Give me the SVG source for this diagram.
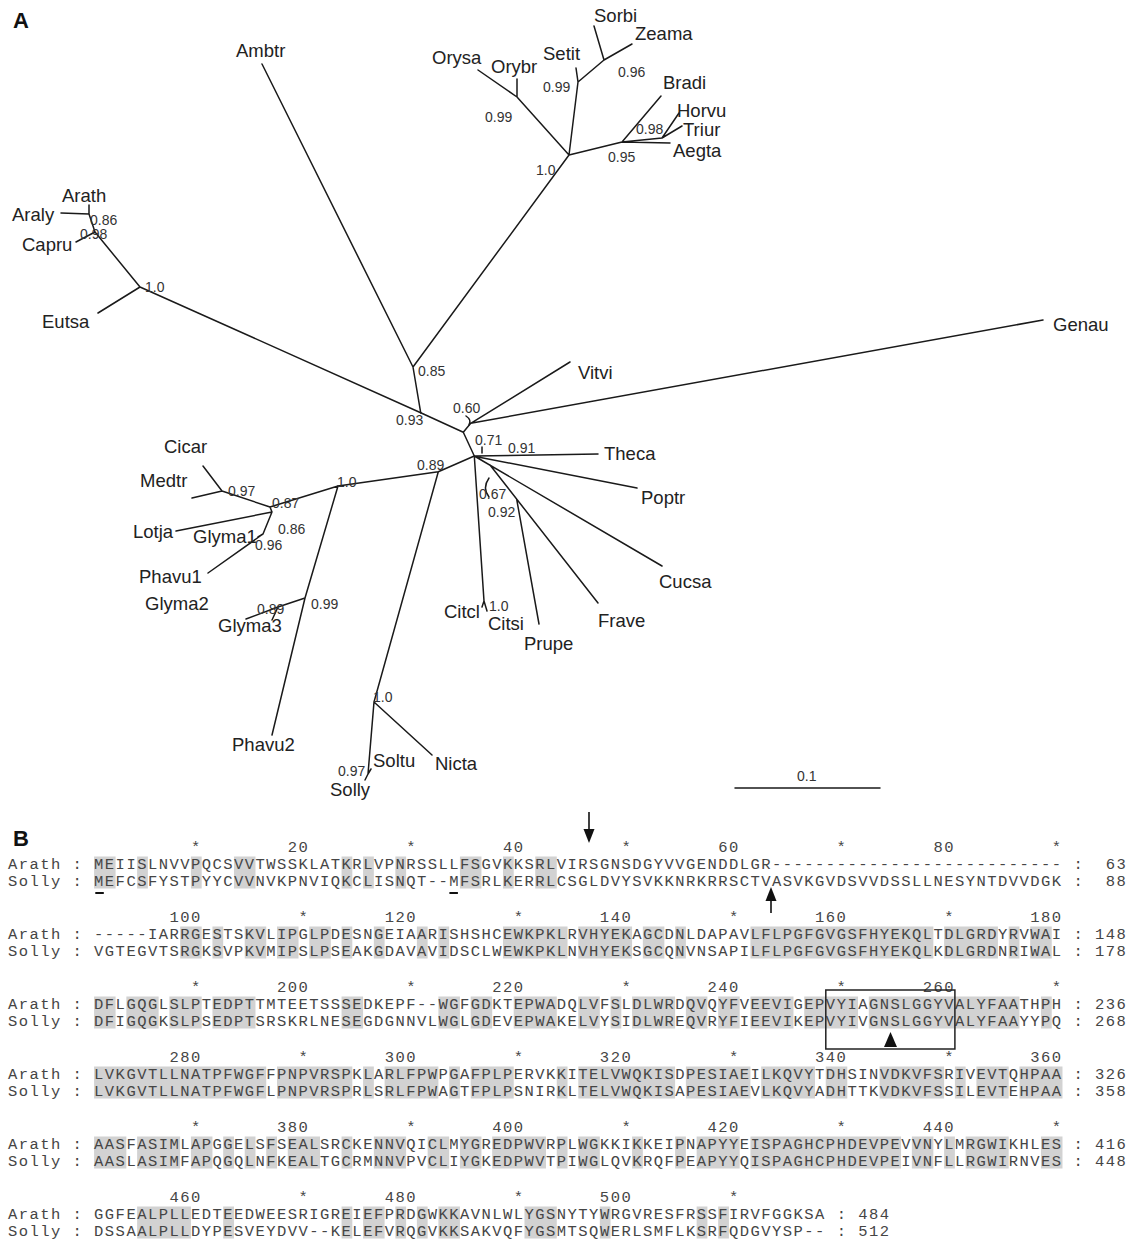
<svg xmlns="http://www.w3.org/2000/svg" width="1137" height="1239" viewBox="0 0 1137 1239">
<style>
.br{stroke:#1a1a1a;stroke-width:1.5;fill:none;stroke-linecap:round}
.lab{font-family:"Liberation Sans",Arial,sans-serif;font-size:18.5px;fill:#222}
.bs{font-family:"Liberation Sans",Arial,sans-serif;font-size:14px;fill:#333}
.pl{font-family:"Liberation Sans",Arial,sans-serif;font-size:22px;font-weight:bold;fill:#111}
.seq{font-family:"Liberation Mono","Courier New",monospace;font-size:15.5px;letter-spacing:1.46px;fill:#454545;white-space:pre}
.sh{fill:#d2d2d2}
.ul{fill:#111}
</style>
<rect width="1137" height="1239" fill="#fff"/>
<text class="pl" x="13" y="28">A</text>
<text class="pl" x="13" y="846">B</text>

<g id="connectors">
<path class="br" d="M420.7,412.7 L413,367 M413,367 L262,64 M413,367 L569,155 M569,155 L517,97 M517,97 L478,70 M517,97 L517,79 M569,155 L578,82 M578,82 L576,68 M578,82 L604,60 M604,60 L594,26 M604,60 L632,44 M569,155 L622,142 M622,142 L670,143 M622,142 L661,96 M622,142 L662,138 M662,138 L679,113 M662,138 L682,126"/>
<path class="br" d="M420.7,412.7 L140,287 M140,287 L98,313 M140,287 L95,232 M95,232 L76,242 M95,232 L89,214 M89,214 L61,213 M89,214 L89,205"/>
<path class="br" d="M420.7,412.7 L463.3,432.3 M463.3,432.3 L470.7,423.3 M470.7,423.3 L570,362 M470.7,423.3 L1043,320 M463.3,432.3 L474.3,456 M474.3,456 L598,454 M478,457 L637,488 M474.3,456 L662,566 M490,465 L598,603 M516.7,499.3 L539,624 M474.3,456 L484,601 M484,601 L482,607 M484,601 L487,611"/>
<path class="br" d="M474.3,456 L438.3,471.7 M438.3,471.7 L338,486 M438.3,471.7 L374,702 M374,702 L432,755 M374,702 L368,774 M368,774 L371,769 M368,774 L365,780"/>
<path class="br" d="M338,486 L270,507 M270,507 L222,491 M222,491 L203,466 M222,491 L192,498 M270,507 L272,512 M272,512 L176,531 M272,512 L263,534 M263,534 L258,537 M263,534 L208,573 M338,486 L305,598 M305,598 L278,607 M278,607 L246,619 M278,607 L272,620 M305,598 L272,735"/>
<path class="br" d="M466,416 Q472,420 469,425 M489,478 Q482,488 489,497 M482,447 L482,453" stroke-width="1.3"/>
<path class="br" d="M735,788 L880,788"/>
</g>

<g id="leaves">
<g id="n-Ambtr"><text class="lab" x="236" y="57">Ambtr</text></g>
<g id="n-Orysa"><text class="lab" x="432" y="64">Orysa</text></g>
<g id="n-Orybr"><text class="lab" x="491" y="73">Orybr</text></g>
<g id="n-Setit"><text class="lab" x="543" y="60">Setit</text></g>
<g id="n-Sorbi"><text class="lab" x="594" y="22">Sorbi</text></g>
<g id="n-Zeama"><text class="lab" x="635" y="40">Zeama</text></g>
<g id="n-Bradi"><text class="lab" x="663" y="89">Bradi</text></g>
<g id="n-Horvu"><text class="lab" x="677" y="117">Horvu</text></g>
<g id="n-Triur"><text class="lab" x="683" y="136">Triur</text></g>
<g id="n-Aegta"><text class="lab" x="673" y="157">Aegta</text></g>
<g id="n-Arath"><text class="lab" x="62" y="202">Arath</text></g>
<g id="n-Araly"><text class="lab" x="12" y="221">Araly</text></g>
<g id="n-Capru"><text class="lab" x="22" y="251">Capru</text></g>
<g id="n-Eutsa"><text class="lab" x="42" y="328">Eutsa</text></g>
<g id="n-Genau"><text class="lab" x="1053" y="331">Genau</text></g>
<g id="n-Vitvi"><text class="lab" x="578" y="379">Vitvi</text></g>
<g id="n-Theca"><text class="lab" x="604" y="460">Theca</text></g>
<g id="n-Poptr"><text class="lab" x="641" y="504">Poptr</text></g>
<g id="n-Cicar"><text class="lab" x="164" y="453">Cicar</text></g>
<g id="n-Medtr"><text class="lab" x="140" y="487">Medtr</text></g>
<g id="n-Lotja"><text class="lab" x="133" y="538">Lotja</text></g>
<g id="n-Glyma1"><text class="lab" x="193" y="543">Glyma1</text></g>
<g id="n-Phavu1"><text class="lab" x="139" y="583">Phavu1</text></g>
<g id="n-Glyma2"><text class="lab" x="145" y="610">Glyma2</text></g>
<g id="n-Glyma3"><text class="lab" x="218" y="632">Glyma3</text></g>
<g id="n-Phavu2"><text class="lab" x="232" y="751">Phavu2</text></g>
<g id="n-Cucsa"><text class="lab" x="659" y="588">Cucsa</text></g>
<g id="n-Frave"><text class="lab" x="598" y="627">Frave</text></g>
<g id="n-Citcl"><text class="lab" x="444" y="618">Citcl</text></g>
<g id="n-Citsi"><text class="lab" x="488" y="630">Citsi</text></g>
<g id="n-Prupe"><text class="lab" x="524" y="650">Prupe</text></g>
<g id="n-Soltu"><text class="lab" x="373" y="767">Soltu</text></g>
<g id="n-Nicta"><text class="lab" x="435" y="770">Nicta</text></g>
<g id="n-Solly"><text class="lab" x="330" y="796">Solly</text></g>
</g>

<g id="support">
<text class="bs" x="485" y="122">0.99</text>
<text class="bs" x="543" y="92">0.99</text>
<text class="bs" x="618" y="77">0.96</text>
<text class="bs" x="636" y="134">0.98</text>
<text class="bs" x="608" y="162">0.95</text>
<text class="bs" x="536" y="175">1.0</text>
<text class="bs" x="90" y="225">0.86</text>
<text class="bs" x="80" y="239">0.98</text>
<text class="bs" x="145" y="292">1.0</text>
<text class="bs" x="418" y="376">0.85</text>
<text class="bs" x="396" y="425">0.93</text>
<text class="bs" x="453" y="413">0.60</text>
<text class="bs" x="475" y="445">0.71</text>
<text class="bs" x="508" y="453">0.91</text>
<text class="bs" x="417" y="470">0.89</text>
<text class="bs" x="479" y="499">0.67</text>
<text class="bs" x="488" y="517">0.92</text>
<text class="bs" x="228" y="496">0.97</text>
<text class="bs" x="272" y="508">0.87</text>
<text class="bs" x="337" y="487">1.0</text>
<text class="bs" x="278" y="534">0.86</text>
<text class="bs" x="255" y="550">0.96</text>
<text class="bs" x="257" y="614">0.89</text>
<text class="bs" x="311" y="609">0.99</text>
<text class="bs" x="489" y="611">1.0</text>
<text class="bs" x="373" y="702">1.0</text>
<text class="bs" x="338" y="776">0.97</text>
<text class="bs" x="797" y="781">0.1</text>
</g>

<g id="alignment">
<g id="shade">
<g transform="translate(94.08,856.5) scale(10.76,1)">
<rect class="sh" x="0" width="2" height="32"/><rect class="sh" x="4" width="1" height="32"/><rect class="sh" x="9" width="1" height="32"/><rect class="sh" x="13" width="2" height="32"/><rect class="sh" x="23" width="1" height="32"/><rect class="sh" x="25" width="1" height="32"/><rect class="sh" x="28" width="1" height="32"/><rect class="sh" x="34" width="2" height="32"/><rect class="sh" x="38" width="1" height="32"/><rect class="sh" x="41" width="2" height="32"/>
</g>
<g transform="translate(94.08,926.5) scale(10.76,1)">
<rect class="sh" x="8" width="2" height="32"/><rect class="sh" x="11" width="1" height="32"/><rect class="sh" x="14" width="2" height="32"/><rect class="sh" x="17" width="2" height="32"/><rect class="sh" x="20" width="2" height="32"/><rect class="sh" x="23" width="1" height="32"/><rect class="sh" x="26" width="1" height="32"/><rect class="sh" x="30" width="1" height="32"/><rect class="sh" x="32" width="1" height="32"/><rect class="sh" x="38" width="6" height="32"/><rect class="sh" x="45" width="5" height="32"/><rect class="sh" x="51" width="2" height="32"/><rect class="sh" x="54" width="1" height="32"/><rect class="sh" x="61" width="17" height="32"/><rect class="sh" x="79" width="5" height="32"/><rect class="sh" x="85" width="1" height="32"/><rect class="sh" x="87" width="2" height="32"/>
</g>
<g transform="translate(94.08,996.5) scale(10.76,1)">
<rect class="sh" x="0" width="2" height="32"/><rect class="sh" x="3" width="3" height="32"/><rect class="sh" x="7" width="3" height="32"/><rect class="sh" x="11" width="4" height="32"/><rect class="sh" x="23" width="2" height="32"/><rect class="sh" x="32" width="2" height="32"/><rect class="sh" x="35" width="2" height="32"/><rect class="sh" x="39" width="4" height="32"/><rect class="sh" x="45" width="2" height="32"/><rect class="sh" x="48" width="1" height="32"/><rect class="sh" x="50" width="4" height="32"/><rect class="sh" x="55" width="2" height="32"/><rect class="sh" x="58" width="2" height="32"/><rect class="sh" x="61" width="4" height="32"/><rect class="sh" x="66" width="5" height="32"/><rect class="sh" x="72" width="14" height="32"/><rect class="sh" x="88" width="1" height="32"/>
</g>
<g transform="translate(94.08,1066.5) scale(10.76,1)">
<rect class="sh" x="0" width="16" height="32"/><rect class="sh" x="17" width="7" height="32"/><rect class="sh" x="25" width="1" height="32"/><rect class="sh" x="27" width="5" height="32"/><rect class="sh" x="33" width="1" height="32"/><rect class="sh" x="35" width="4" height="32"/><rect class="sh" x="43" width="1" height="32"/><rect class="sh" x="45" width="9" height="32"/><rect class="sh" x="55" width="6" height="32"/><rect class="sh" x="62" width="5" height="32"/><rect class="sh" x="68" width="2" height="32"/><rect class="sh" x="73" width="6" height="32"/><rect class="sh" x="80" width="1" height="32"/><rect class="sh" x="82" width="3" height="32"/><rect class="sh" x="86" width="4" height="32"/>
</g>
<g transform="translate(94.08,1136.5) scale(10.76,1)">
<rect class="sh" x="0" width="3" height="32"/><rect class="sh" x="4" width="4" height="32"/><rect class="sh" x="9" width="2" height="32"/><rect class="sh" x="12" width="1" height="32"/><rect class="sh" x="14" width="1" height="32"/><rect class="sh" x="16" width="1" height="32"/><rect class="sh" x="18" width="3" height="32"/><rect class="sh" x="23" width="1" height="32"/><rect class="sh" x="26" width="3" height="32"/><rect class="sh" x="31" width="2" height="32"/><rect class="sh" x="34" width="2" height="32"/><rect class="sh" x="37" width="5" height="32"/><rect class="sh" x="43" width="1" height="32"/><rect class="sh" x="45" width="2" height="32"/><rect class="sh" x="50" width="1" height="32"/><rect class="sh" x="54" width="1" height="32"/><rect class="sh" x="56" width="4" height="32"/><rect class="sh" x="61" width="14" height="32"/><rect class="sh" x="76" width="2" height="32"/><rect class="sh" x="79" width="1" height="32"/><rect class="sh" x="81" width="4" height="32"/><rect class="sh" x="88" width="2" height="32"/>
</g>
<g transform="translate(94.08,1206.5) scale(10.76,1)">
<rect class="sh" x="4" width="5" height="32"/><rect class="sh" x="12" width="1" height="32"/><rect class="sh" x="23" width="1" height="32"/><rect class="sh" x="25" width="2" height="32"/><rect class="sh" x="28" width="1" height="32"/><rect class="sh" x="30" width="1" height="32"/><rect class="sh" x="32" width="2" height="32"/><rect class="sh" x="40" width="3" height="32"/><rect class="sh" x="47" width="1" height="32"/><rect class="sh" x="56" width="1" height="32"/><rect class="sh" x="58" width="1" height="32"/>
</g>
</g>

<g id="block1">
<text class="seq" xml:space="preserve" x="94.08" y="852">         *        20         *        40         *        60         *        80         *</text>
<text class="seq" xml:space="preserve" x="8" y="869">Arath : MEIISLNVVPQCSVVTWSSKLATKRLVPNRSSLLFSGVKKSRLVIRSGNSDGYVVGENDDLGR--------------------------- :  63</text>
<text class="seq" xml:space="preserve" x="8" y="886">Solly : MEFCSFYSTPYYCVVNVKPNVIQKCLISNQT--MFSRLKERRLCSGLDVYSVKKNRKRRSCTVASVKGVDSVVDSSLLNESYNTDVVDGK :  88</text>
<rect class="ul" x="95.3" y="892" width="8.5" height="2"/>
<rect class="ul" x="449.4" y="892" width="8.5" height="2"/>
<path d="M589,812 L589,832" stroke="#111" stroke-width="1.6"/>
<path d="M583.5,829 L594.5,829 L589,843 Z" fill="#111"/>
<path d="M771,913 L771,897" stroke="#111" stroke-width="1.6"/>
<path d="M765.5,901 L776.5,901 L771,887 Z" fill="#111"/>
</g>
<g id="block2">
<text class="seq" xml:space="preserve" x="94.08" y="922">       100         *       120         *       140         *       160         *       180</text>
<text class="seq" xml:space="preserve" x="8" y="939">Arath : -----IARRGESTSKVLIPGLPDESNGEIAARISHSHCEWKPKLRVHYEKAGCDNLDAPAVLFLPGFGVGSFHYEKQLTDLGRDYRVWAI : 148</text>
<text class="seq" xml:space="preserve" x="8" y="956">Solly : VGTEGVTSRGKSVPKVMIPSLPSEAKGDAVAVIDSCLWEWKPKLNVHYEKSGCQNVNSAPILFLPGFGVGSFHYEKQLKDLGRDNRIWAL : 178</text>
</g>
<g id="block3">
<text class="seq" xml:space="preserve" x="94.08" y="992">         *       200         *       220         *       240         *       260         *</text>
<text class="seq" xml:space="preserve" x="8" y="1009">Arath : DFLGQGLSLPTEDPTTMTEETSSSEDKEPF--WGFGDKTEPWADQLVFSLDLWRDQVQYFVEEVIGEPVYIAGNSLGGYVALYFAATHPH : 236</text>
<text class="seq" xml:space="preserve" x="8" y="1026">Solly : DFIGQGKSLPSEDPTSRSKRLNESEGDGNNVLWGLGDEVEPWAKELVYSIDLWREQVRYFIEEVIKEPVYIVGNSLGGYVALYFAAYYPQ : 268</text>
<rect x="825.8" y="990" width="129.1" height="59" fill="none" stroke="#222" stroke-width="1.5"/>
<path d="M884,1047 L897,1047 L890.5,1032 Z" fill="#111"/>
</g>
<g id="block4">
<text class="seq" xml:space="preserve" x="94.08" y="1062">       280         *       300         *       320         *       340         *       360</text>
<text class="seq" xml:space="preserve" x="8" y="1079">Arath : LVKGVTLLNATPFWGFFPNPVRSPKLARLFPWPGAFPLPERVKKITELVWQKISDPESIAEILKQVYTDHSINVDKVFSRIVEVTQHPAA : 326</text>
<text class="seq" xml:space="preserve" x="8" y="1096">Solly : LVKGVTLLNATPFWGFLPNPVRSPRLSRLFPWAGTFPLPSNIRKLTELVWQKISAPESIAEVLKQVYADHTTKVDKVFSSILEVTEHPAA : 358</text>
</g>
<g id="block5">
<text class="seq" xml:space="preserve" x="94.08" y="1132">         *       380         *       400         *       420         *       440         *</text>
<text class="seq" xml:space="preserve" x="8" y="1149">Arath : AASFASIMLAPGGELSFSEALSRCKENNVQICLMYGREDPWVRPLWGKKIKKEIPNAPYYEISPAGHCPHDEVPEVVNYLMRGWIKHLES : 416</text>
<text class="seq" xml:space="preserve" x="8" y="1166">Solly : AASLASIMFAPQGQLNFKEALTGCRMNNVPVCLIYGKEDPWVTPIWGLQVKRQFPEAPYYQISPAGHCPHDEVPEIVNFLLRGWIRNVES : 448</text>
</g>
<g id="block6">
<text class="seq" xml:space="preserve" x="94.08" y="1202">       460         *       480         *       500         *</text>
<text class="seq" xml:space="preserve" x="8" y="1219">Arath : GGFEALPLLEDTEEDWEESRIGREIEFPRDGWKKAVNLWLYGSNYTYWRGVRESFRSSFIRVFGGKSA : 484</text>
<text class="seq" xml:space="preserve" x="8" y="1236">Solly : DSSAALPLLDYPESVEYDVV--KELEFVRQGVKKSAKVQFYGSMTSQWERLSMFLKSRFQDGVYSP-- : 512</text>
</g>
</g>
</svg>
